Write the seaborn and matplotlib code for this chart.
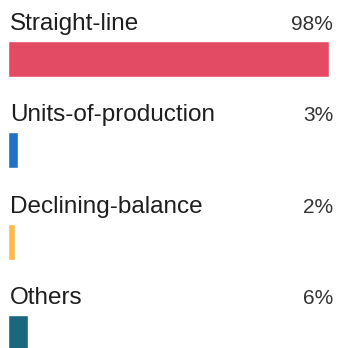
import pandas as pd
import matplotlib
matplotlib.use("Agg")
import matplotlib.pyplot as plt
import seaborn as sns

methods = ["Straight-line", "Units-of-production", "Declining-balance", "Others"]
shares = [98, 3, 2, 6]
labels = ["98%", "3%", "2%", "6%"]
colors = ["#e34b64", "#1f72c6", "#fdb94a", "#1b6780"]

df = pd.DataFrame({"method": methods, "share": shares})

sns.set_style("white")
plt.rcParams["font.family"] = ["Liberation Sans", "DejaVu Sans"]

fig = plt.figure(figsize=(3.39, 3.48), dpi=100)
ax = fig.add_axes([0, 0, 1, 1])

sns.barplot(data=df, x="share", y="method", hue="method", palette=colors,
            orient="h", width=0.394, legend=False, ax=ax, saturation=1)

# pixel layout: row spacing ~91px, bar left at 8px, 98% ends at 329px
unit = 91.3
ax.set_ylim((348 - 59) / unit, -59 / unit)
pxx = 321 / 98
ax.set_xlim(-8 / pxx, (339 - 8) / pxx)

for i, (m, lab) in enumerate(zip(methods, labels)):
    ax.text(0.5, i - 29 / unit, m, fontsize=17.5, color="#1e1e1e",
            ha="left", va="baseline")
    ax.text(99.3, i - 29 / unit, lab, fontsize=15, color="#333333",
            ha="right", va="baseline")

ax.set_axis_off()
fig.savefig("out.png", dpi=100)
